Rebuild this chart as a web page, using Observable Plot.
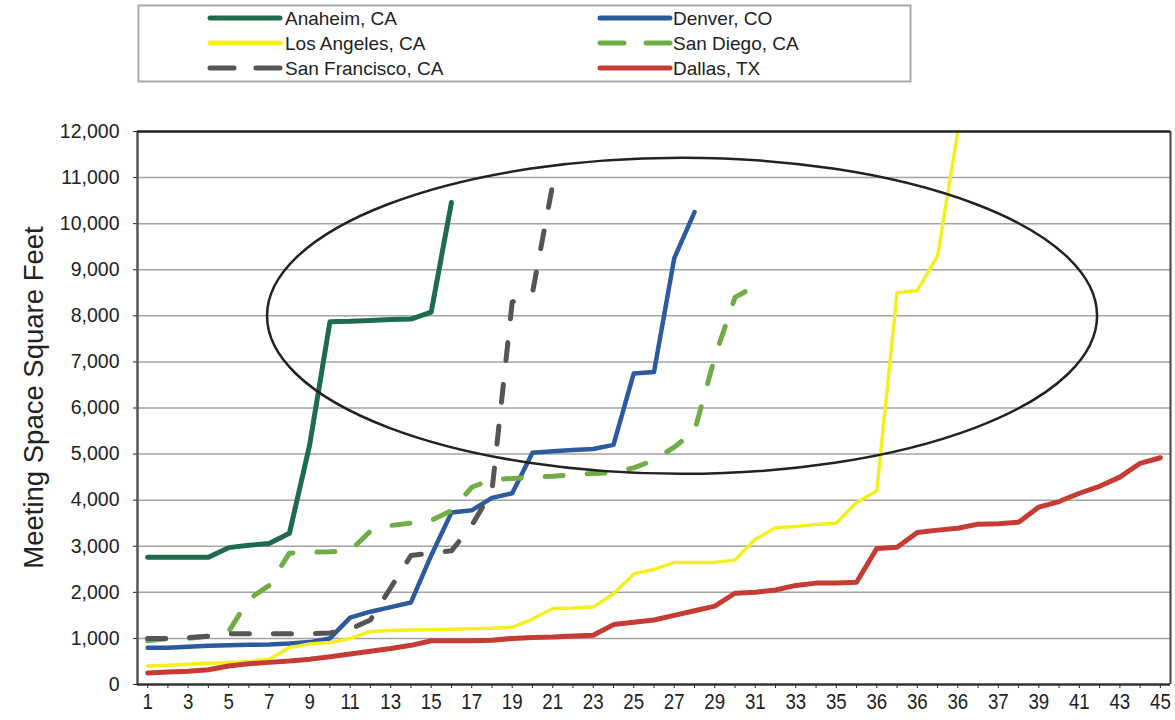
<!DOCTYPE html>
<html>
<head>
<meta charset="utf-8">
<script src="https://cdn.jsdelivr.net/npm/d3@7"></script>
<script src="https://cdn.jsdelivr.net/npm/@observablehq/plot@0.6"></script>
<style>
  body { margin: 0; background: #fff; }
  #wrap { width: 1175px; height: 720px; overflow: hidden; background: #fff; }
  #legend, #chart svg { display: block; }
</style>
</head>
<body>
<div id="wrap">
  <svg id="legend" width="1175" height="90"></svg>
  <div id="chart"></div>
</div>
<script>
// ---------- data ----------
const cities = ["Anaheim, CA", "Denver, CO", "Los Angeles, CA", "San Diego, CA", "San Francisco, CA", "Dallas, TX"];
const xTickLabels = ["1","3","5","7","9","11","13","15","17","19","21","23","25","27","29","31","33","35","36","36","36","37","39","41","43","45"];
const yTicks = [0,1000,2000,3000,4000,5000,6000,7000,8000,9000,10000,11000,12000];

const anaheim = [2760,2760,2760,2760,2970,3020,3060,3280,5200,7870,7880,7900,7920,7930,8080,10460];
const denver = [800,800,820,840,850,860,870,890,920,1000,1450,1580,1680,1780,2800,3730,3780,4050,4150,5030,5060,5090,5110,5200,6750,6780,9250,10250];
const losAngeles = [400,420,440,460,480,500,550,800,880,910,1000,1150,1170,1180,1190,1200,1210,1220,1240,1420,1650,1660,1680,1970,2400,2500,2650,2650,2650,2700,3150,3400,3430,3470,3500,3950,4200,8500,8550,9300,12000];
const sanDiego = [950,1000,1000,1050,1150,1850,2150,2850,2870,2880,2900,3330,3450,3500,3560,3770,4280,4450,4470,4500,4520,4550,4580,4600,4700,4870,5150,5500,7100,8400,8650];
const sanFrancisco = [1000,1000,1020,1050,1100,1100,1100,1100,1100,1120,1200,1400,2100,2800,2850,2900,3450,4200,8300,8500,10850];
const dallas = [250,270,290,320,400,450,480,510,550,600,660,720,780,850,950,950,950,960,1000,1020,1030,1050,1070,1300,1350,1400,1500,1600,1700,1980,2000,2050,2150,2200,2200,2220,2950,2980,3300,3350,3390,3480,3490,3520,3850,3970,4150,4300,4500,4800,4920];

// annotation ellipse, in data units (category index, square feet)
const ellipseCenter = [26.41, 7990];
const ellipseRadii = [20.49, 3430];

// ---------- styles ----------
const seriesValues = [anaheim, denver, losAngeles, sanDiego, sanFrancisco, dallas];
const colors = ["#1f6b4d", "#2c5a9e", "#f3f01e", "#71ad47", "#555555", "#c63c34"];
const widths = [5, 4.5, 3.5, 5, 5, 5];
const dashes = [null, null, null, "18,24", "18,24", null];
const FONT = "'Liberation Sans', Arial, Helvetica, sans-serif";

const rows = [];
cities.forEach((c, k) => seriesValues[k].forEach((v, i) => rows.push({city: c, i, v})));

const plot = Plot.plot({
  width: 1175,
  height: 630,
  marginTop: 41,
  marginBottom: 36,
  marginLeft: 137,
  marginRight: 5,
  style: {fontFamily: FONT, fontSize: "19.5px", color: "#222", background: "#fff", overflow: "visible"},
  x: {
    type: "linear",
    domain: [-0.5, 50.5],
    ticks: d3.range(0, 51),
    tickFormat: i => (i % 2 === 0 ? xTickLabels[i / 2] : ""),
    tickSize: 4,
    tickPadding: 5,
    label: null
  },
  y: {
    domain: [0, 12000],
    ticks: yTicks,
    tickFormat: d3.format(","),
    tickSize: 4,
    tickPadding: 14,
    label: null
  },
  marks: [
    Plot.ruleY(yTicks.slice(1, -1), {stroke: "#a3a3a3", strokeWidth: 1.5}),
    ...cities.map((c, k) => Plot.line(rows.filter(d => d.city === c), {
      x: "i", y: "v",
      stroke: colors[k],
      strokeWidth: widths[k],
      strokeDasharray: dashes[k] || undefined,
      strokeLinejoin: "round",
      strokeLinecap: "round"
    })),
    Plot.ruleX([-0.5], {stroke: "#555", strokeWidth: 2.5}),
    Plot.ruleX([50.5], {stroke: "#444", strokeWidth: 2}),
    Plot.ruleY([0], {stroke: "#333", strokeWidth: 2.5}),
    Plot.ruleY([12000], {stroke: "#222", strokeWidth: 2.5})
  ]
});

document.getElementById("chart").appendChild(plot);

// condensed, taller x tick labels as in the reference
plot.querySelectorAll('g[aria-label^="x-axis"] text').forEach(t => {
  t.setAttribute("font-size", "22px");
  const tr = t.getAttribute("transform");
  t.setAttribute("transform", (tr ? tr + " " : "") + "scale(0.85,1)");
});

const NS = "http://www.w3.org/2000/svg";
// ellipse annotation through the plot's own scales
const xs = plot.scale("x"), ys = plot.scale("y");
const cx = xs.apply(ellipseCenter[0]);
const cy = ys.apply(ellipseCenter[1]);
const rx = xs.apply(ellipseCenter[0] + ellipseRadii[0]) - cx;
const ry = cy - ys.apply(ellipseCenter[1] + ellipseRadii[1]);
const ell = document.createElementNS(NS, "ellipse");
ell.setAttribute("cx", cx); ell.setAttribute("cy", cy);
ell.setAttribute("rx", rx); ell.setAttribute("ry", ry);
ell.setAttribute("fill", "none"); ell.setAttribute("stroke", "#222"); ell.setAttribute("stroke-width", "2.5");
plot.appendChild(ell);

// y axis title
const yt = document.createElementNS(NS, "text");
yt.setAttribute("transform", `translate(33,${(ys.apply(0) + ys.apply(12000)) / 2 - 10}) rotate(-90)`);
yt.setAttribute("text-anchor", "middle");
yt.setAttribute("dy", "0.35em");
yt.setAttribute("font-size", "27.5px");
yt.setAttribute("font-family", FONT);
yt.setAttribute("fill", "#222");
yt.textContent = "Meeting Space Square Feet";
plot.appendChild(yt);

// ---------- legend ----------
const leg = d3.select("#legend");
leg.append("rect").attr("x", 138.5).attr("y", 5.5).attr("width", 772).attr("height", 76)
  .attr("fill", "#fff").attr("stroke", "#a8a8a8").attr("stroke-width", 2);
const legPos = [[0, 0], [1, 0], [0, 1], [1, 1], [0, 2], [1, 2]];
const colX = [[210, 280, 285], [600, 670, 673]];
const rowY = [18, 43, 68];
cities.forEach((c, k) => {
  const [col, row] = legPos[k];
  const [x1, x2, tx] = colX[col];
  const y = rowY[row];
  leg.append("line").attr("x1", x1).attr("x2", x2).attr("y1", y).attr("y2", y)
    .attr("stroke", colors[k]).attr("stroke-width", 5).attr("stroke-linecap", "round")
    .attr("stroke-dasharray", dashes[k] ? "24,22" : null);
  leg.append("text").attr("x", tx).attr("y", y).attr("dy", "0.35em")
    .attr("font-family", FONT).attr("font-size", "19px").attr("fill", "#222").text(c);
});
</script>
</body>
</html>
